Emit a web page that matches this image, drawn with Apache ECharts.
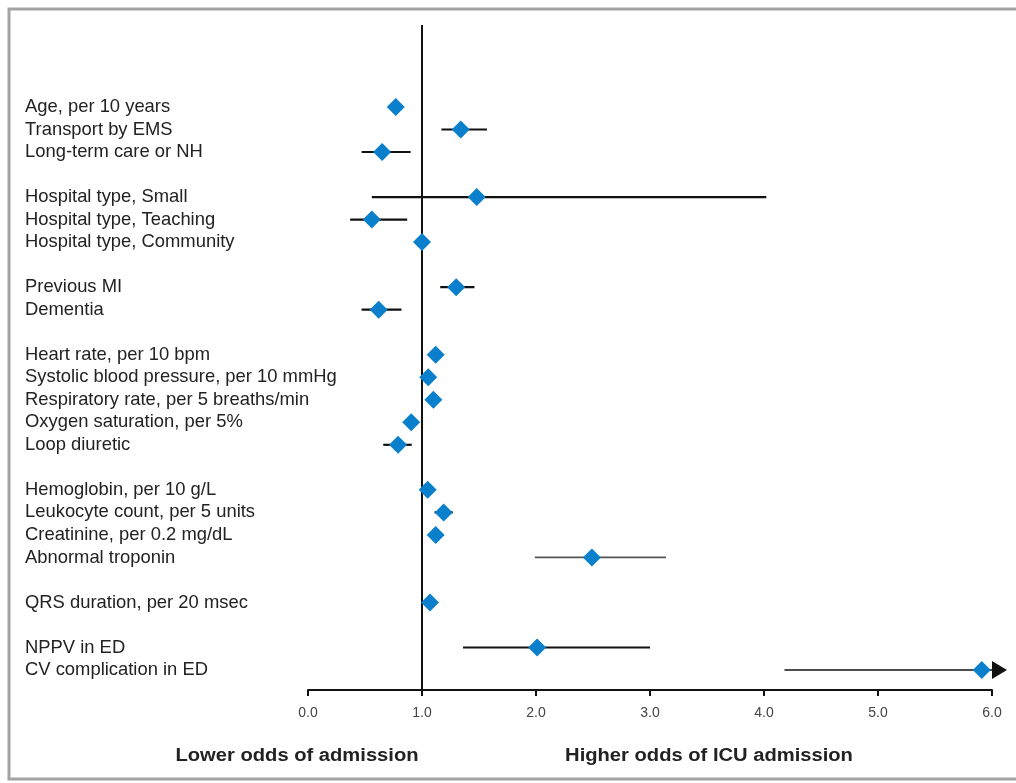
<!DOCTYPE html>
<html>
<head>
<meta charset="utf-8">
<script src="https://cdn.jsdelivr.net/npm/echarts@6/dist/echarts.min.js"></script>
<style>html,body{margin:0;padding:0;background:#fff}#c{width:1016px;height:783px}</style>
</head>
<body>
<div id="c"></div>
<script>
const categories = ['Age, per 10 years','Transport by EMS','Long-term care or NH','','Hospital type, Small','Hospital type, Teaching','Hospital type, Community','','Previous MI','Dementia','','Heart rate, per 10 bpm','Systolic blood pressure, per 10 mmHg','Respiratory rate, per 5 breaths/min','Oxygen saturation, per 5%','Loop diuretic','','Hemoglobin, per 10 g/L','Leukocyte count, per 5 units','Creatinine, per 0.2 mg/dL','Abnormal troponin','','QRS duration, per 20 msec','','NPPV in ED','CV complication in ED'];
const oddsRatio = [0.77,1.34,0.65,null,1.48,0.56,1.0,null,1.30,0.62,null,1.12,1.055,1.10,0.905,0.79,null,1.05,1.19,1.12,2.49,null,1.07,null,2.01,5.91];
const ciLow  = [0.73,1.17,0.47,null,0.56,0.37,1.0,null,1.16,0.47,null,1.08,1.03,1.06,0.87,0.66,null,1.01,1.11,1.08,1.99,null,1.03,null,1.36,4.18];
const ciHigh = [0.82,1.57,0.90,null,4.02,0.87,1.0,null,1.46,0.82,null,1.16,1.08,1.14,0.94,0.91,null,1.09,1.27,1.16,3.14,null,1.11,null,3.00,6.14];
const xTicks = ['0.0','1.0','2.0','3.0','4.0','5.0','6.0'];
const referenceOR = 1.0;
const axisMax = 6;

const thinRows = {'Abnormal troponin': {color:'#555', width:1.6}, 'CV complication in ED': {color:'#111', width:1.4}};

const ciData = [], ptData = [], arrowData = [];
categories.forEach((c, i) => {
  if (oddsRatio[i] == null) return;
  ciData.push([ciLow[i], Math.min(ciHigh[i], axisMax), i]);
  ptData.push([oddsRatio[i], i]);
  if (ciHigh[i] > axisMax) arrowData.push([axisMax, i]);
});

const FONT = '"Liberation Sans", Arial, Helvetica, sans-serif';
const chart = echarts.init(document.getElementById('c'), null, {renderer:'canvas'});
const LEFT = 308, RIGHT = 24;
chart.setOption({
  animation: false,
  backgroundColor: '#fff',
  grid: [
    {left: LEFT, right: RIGHT, top: 95.7, bottom: 101.7},
    {left: LEFT, right: RIGHT, top: 25, bottom: 93}
  ],
  xAxis: [
    {gridIndex: 0, type: 'value', min: 0, max: axisMax, show: false},
    {gridIndex: 1, type: 'value', min: 0, max: axisMax, interval: 1,
     axisLine: {show: true, lineStyle: {color: '#111', width: 2}},
     axisTick: {show: true, length: 6, lineStyle: {color: '#111', width: 2}},
     splitLine: {show: false},
     axisLabel: {color: '#444', fontSize: 14, margin: 16, fontFamily: FONT,
       formatter: v => xTicks[Math.round(v)]}}
  ],
  yAxis: [
    {gridIndex: 0, type: 'category', inverse: true, data: categories,
     axisLine: {show: false}, axisTick: {show: false}, splitLine: {show: false},
     axisLabel: {align: 'left', margin: LEFT - 25, color: '#222', fontSize: 18.4, interval: 0, fontFamily: FONT,
       padding: [4, 0, 0, 0]}},
    {gridIndex: 1, type: 'value', min: 0, max: 1, show: false}
  ],
  series: [
    {type: 'line', xAxisIndex: 1, yAxisIndex: 1, data: [[referenceOR, 0], [referenceOR, 1]],
     symbol: 'none', lineStyle: {color: '#111', width: 2}, z: 1, silent: true},
    {type: 'custom', xAxisIndex: 0, yAxisIndex: 0, data: ciData, z: 2, clip: false,
     renderItem: (params, api) => {
       const i = api.value(2);
       const st = thinRows[categories[i]] || {color: '#111', width: 2.2};
       const a = api.coord([api.value(0), i]);
       const b = api.coord([api.value(1), i]);
       return {type: 'line', shape: {x1: a[0], y1: a[1], x2: b[0], y2: b[1]},
               style: {stroke: st.color, lineWidth: st.width}};
     }},
    {type: 'scatter', xAxisIndex: 0, yAxisIndex: 0, data: ptData, symbol: 'diamond', symbolSize: [18, 18],
     itemStyle: {color: '#0a80cc', opacity: 1}, z: 3, clip: false},
    {type: 'custom', xAxisIndex: 0, yAxisIndex: 0, data: arrowData, z: 4, clip: false,
     renderItem: (params, api) => {
       const p = api.coord([api.value(0), api.value(1)]);
       return {type: 'polygon', shape: {points: [[p[0], p[1] - 9], [p[0] + 15, p[1]], [p[0], p[1] + 9]]},
               style: {fill: '#111'}};
     }}
  ],
  graphic: [
    {type: 'rect', shape: {x: 9, y: 9, width: 1030, height: 770}, style: {fill: 'none', stroke: '#a3a3a3', lineWidth: 3}, z: 10},
    {type: 'text', x: 297, y: 756, scaleX: 1.12, style: {text: 'Lower odds of admission', fontSize: 18, fontWeight: 'bold', fill: '#222', align: 'center', verticalAlign: 'middle', fontFamily: FONT}},
    {type: 'text', x: 709, y: 756, scaleX: 1.12, style: {text: 'Higher odds of ICU admission', fontSize: 18, fontWeight: 'bold', fill: '#222', align: 'center', verticalAlign: 'middle', fontFamily: FONT}}
  ]
});
</script>
</body>
</html>
